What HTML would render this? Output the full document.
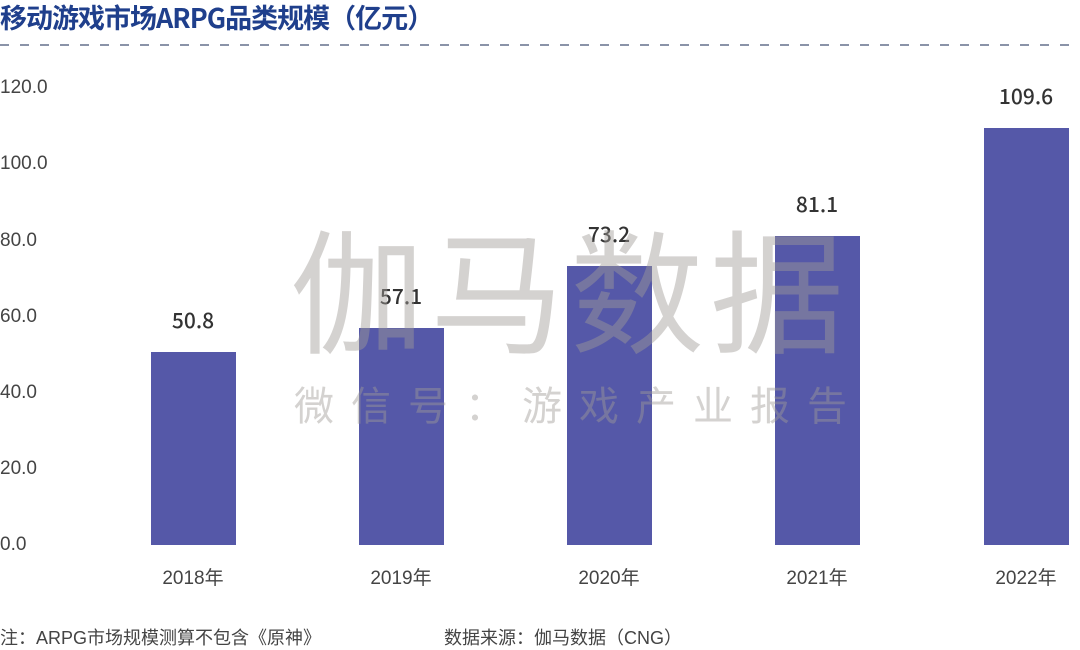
<!DOCTYPE html>
<html><head><meta charset="utf-8"><style>
body{margin:0;width:1080px;height:645px;background:#fff;overflow:hidden;position:relative;font-family:"Liberation Sans","Noto Sans CJK SC",sans-serif}
.a{position:absolute;white-space:nowrap}
.t{left:0;top:0;font-size:27px;font-weight:bold;color:#1f3f8c;line-height:34px;font-family:"Noto Sans CJK SC",sans-serif;letter-spacing:-1px}
.dash{left:0;top:44px;width:1080px;height:2px;background:repeating-linear-gradient(90deg,#8a93a8 0 9px,transparent 9px 20px)}
.y{left:0;width:58px;font-size:19px;color:#444;line-height:20px}
.bar{position:absolute;width:85px;background:#5558a8;bottom:100px}
.v{font-size:21px;font-weight:500;color:#333;width:120px;text-align:center;font-family:"Noto Sans CJK SC",sans-serif;line-height:26px}
.x{font-size:19px;color:#444;width:120px;text-align:center;top:563px}
.wm{font-family:"Noto Sans CJK SC",sans-serif;color:rgba(160,155,150,0.45);z-index:5}
</style></head><body>
<div class="a t">移动游戏市场ARPG品类规模（亿元）</div>
<div class="a dash"></div>
<div class="a y" style="top:78px">120.0</div>
<div class="a y" style="top:154px">100.0</div>
<div class="a y" style="top:231px">80.0</div>
<div class="a y" style="top:307px">60.0</div>
<div class="a y" style="top:383px">40.0</div>
<div class="a y" style="top:459px">20.0</div>
<div class="a y" style="top:535px">0.0</div>
<div class="bar" style="left:151px;height:193px"></div>
<div class="bar" style="left:359px;height:217px"></div>
<div class="bar" style="left:567px;height:279px"></div>
<div class="bar" style="left:775px;height:309px"></div>
<div class="bar" style="left:984px;height:417px"></div>
<div class="a v" style="left:133px;top:307px">50.8</div>
<div class="a v" style="left:341px;top:283px">57.1</div>
<div class="a v" style="left:549px;top:221px">73.2</div>
<div class="a v" style="left:757px;top:191px">81.1</div>
<div class="a v" style="left:966px;top:83px">109.6</div>
<div class="a x" style="left:133px">2018年</div>
<div class="a x" style="left:341px">2019年</div>
<div class="a x" style="left:549px">2020年</div>
<div class="a x" style="left:757px">2021年</div>
<div class="a x" style="left:966px">2022年</div>
<div class="a" style="left:0;top:624px;font-size:18px;color:#444">注：ARPG市场规模测算不包含《原神》</div>
<div class="a" style="left:444px;top:624px;font-size:18px;color:#444">数据来源：伽马数据（CNG）</div>
<div class="a wm" style="left:290px;top:200px;font-size:134px;letter-spacing:6px;line-height:170px">伽马数据</div>
<div class="a wm" style="left:294px;top:378px;font-size:40px;letter-spacing:17px;line-height:50px">微信号：游戏产业报告</div>
</body></html>
